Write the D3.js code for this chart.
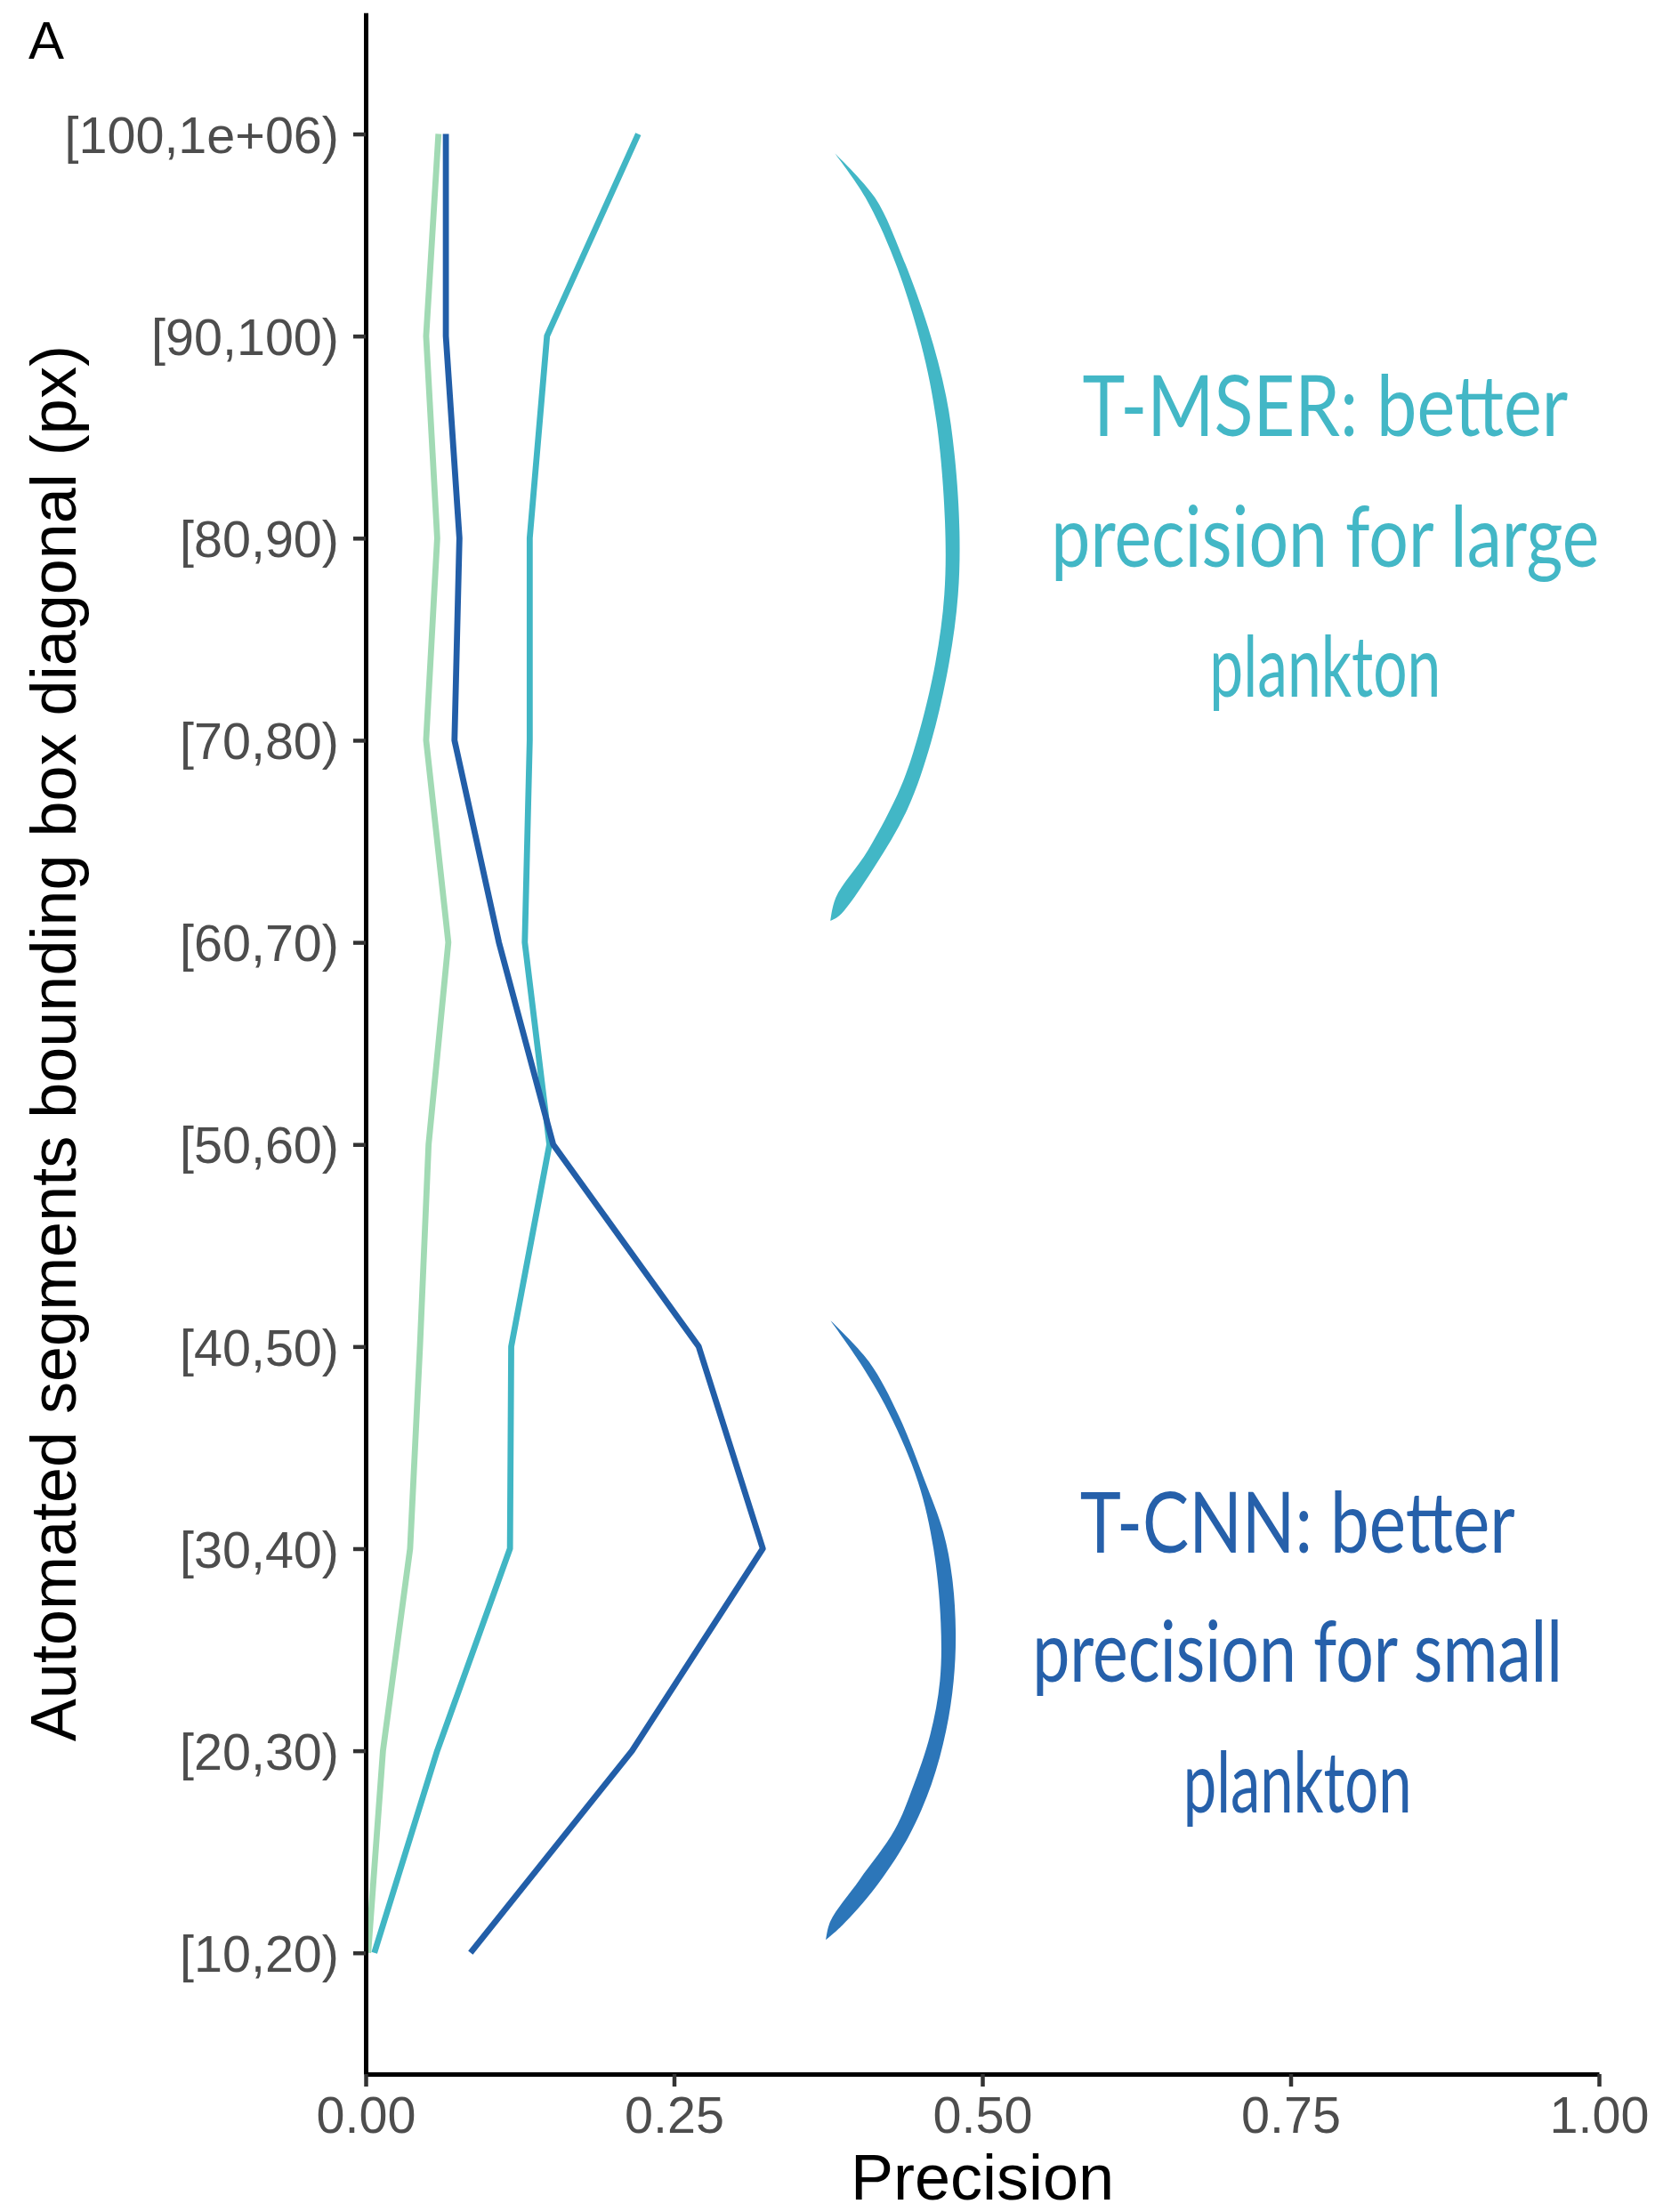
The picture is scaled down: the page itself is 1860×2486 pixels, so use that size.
<!DOCTYPE html>
<html>
<head>
<meta charset="utf-8">
<script src="https://cdn.jsdelivr.net/npm/d3@7"></script>
<style>
  html, body { margin: 0; padding: 0; background: #ffffff; }
  svg { display: block; }
</style>
</head>
<body>
<svg id="chart" width="1860" height="2486"></svg>
<script>
// Size classes of the automated segments (bottom to top of the axis)
const categories = ["[10,20)", "[20,30)", "[30,40)", "[40,50)", "[50,60)",
                    "[60,70)", "[70,80)", "[80,90)", "[90,100)", "[100,1e+06)"];

// Precision per size class
const precisionOther = [0.002, 0.014, 0.036, 0.044, 0.051, 0.067, 0.049, 0.058, 0.049, 0.059];
const precisionTMSER = [0.007, 0.058, 0.117, 0.118, 0.149, 0.129, 0.133, 0.133, 0.147, 0.221];
const precisionTCNN  = [0.085, 0.216, 0.322, 0.270, 0.152, 0.108, 0.072, 0.076, 0.065, 0.065];

const xTicks = [0, 0.25, 0.5, 0.75, 1];

// Callout texts
const noteTMSER = ["T-MSER: better", "precision for large", "plankton"];
const noteTCNN  = ["T-CNN: better", "precision for small", "plankton"];

// Brace strokes, [precision, class index] along the outer and inner edge
const braceTMSEROuter = [[0.3805, 8.904], [0.4129, 8.685], [0.4346, 8.401], [0.4562, 8.039],
  [0.4706, 7.703], [0.4778, 7.393], [0.4815, 7.031], [0.4803, 6.721], [0.4731, 6.385],
  [0.4587, 5.997], [0.4394, 5.661], [0.4129, 5.377], [0.3841, 5.132], [0.3768, 5.106]];
const braceTMSERInner = [[0.4052, 8.686], [0.4287, 8.375], [0.4503, 7.961], [0.4629, 7.574],
  [0.4697, 7.083], [0.4692, 6.722], [0.4620, 6.385], [0.4480, 6.023], [0.4336, 5.765],
  [0.4072, 5.455], [0.3812, 5.222]];
const braceTCNNOuter = [[0.3768, 3.129], [0.4082, 2.924], [0.4322, 2.658], [0.4538, 2.329],
  [0.4683, 2.083], [0.4755, 1.858], [0.4784, 1.592], [0.4767, 1.345], [0.4706, 1.099],
  [0.4587, 0.833], [0.4394, 0.566], [0.4129, 0.320], [0.3865, 0.136], [0.3732, 0.064]];
const braceTCNNInner = [[0.4003, 2.924], [0.4238, 2.678], [0.4479, 2.329], [0.4604, 2.001],
  [0.4663, 1.632], [0.4656, 1.345], [0.4577, 1.079], [0.4432, 0.812], [0.4288, 0.607],
  [0.4004, 0.361], [0.3768, 0.156]];

// ---- layout ----
const svg = d3.select("#chart");
const plotLeft = 411, plotRight = 1797, plotTop = 14.3, plotBottom = 2331;

const x = d3.scaleLinear().domain([0, 1]).range([plotLeft, plotRight]);
const y = d3.scalePoint().domain(categories).range([plotBottom, plotTop]).padding(0.6);
const yIdx = d3.scaleLinear().domain([0, categories.length - 1])
  .range([y(categories[0]), y(categories[categories.length - 1])]);

const series = [
  { values: precisionOther, color: "#a1dab4" },
  { values: precisionTMSER, color: "#41b6c4" },
  { values: precisionTCNN,  color: "#225ea8" }
];

// ---- data lines ----
const line = d3.line().x(d => x(d.v)).y(d => y(d.c));
svg.append("g").selectAll("path").data(series).join("path")
  .attr("d", s => line(categories.map((c, i) => ({ c, v: s.values[i] }))))
  .attr("fill", "none")
  .attr("stroke", s => s.color)
  .attr("stroke-width", 6.8)
  .attr("stroke-linejoin", "round")
  .attr("stroke-linecap", "butt");

// ---- axes ----
const font = "'Liberation Sans', Arial, Helvetica, sans-serif";

const yAxis = svg.append("g").attr("transform", `translate(${plotLeft},0)`)
  .call(d3.axisLeft(y).tickSize(14).tickSizeOuter(0).tickPadding(16));
const xAxis = svg.append("g").attr("transform", `translate(0,${plotBottom})`)
  .call(d3.axisBottom(x).tickValues(xTicks).tickFormat(d3.format(".2f"))
    .tickSize(14).tickSizeOuter(0).tickPadding(11));

[yAxis, xAxis].forEach(g => {
  g.select(".domain").attr("stroke", "#000").attr("stroke-width", 5);
  g.selectAll(".tick line").attr("stroke", "#333333").attr("stroke-width", 4.5);
  g.selectAll(".tick text").attr("fill", "#4d4d4d")
    .style("font-family", font).style("font-size", "57.5px");
});
yAxis.selectAll(".tick text").attr("dy", "0.36em");

// axis titles
svg.append("text")
  .attr("x", (plotLeft + plotRight) / 2).attr("y", 2472)
  .attr("text-anchor", "middle")
  .style("font-family", font).style("font-size", "72px").attr("fill", "#000")
  .text("Precision");

svg.append("text")
  .attr("transform", `translate(85,${(plotTop + plotBottom) / 2}) rotate(-90)`)
  .attr("text-anchor", "middle")
  .style("font-family", font).style("font-size", "72px").attr("fill", "#000")
  .text("Automated segments bounding box diagonal (px)");

// panel tag
svg.append("text")
  .attr("x", 32).attr("y", 66)
  .style("font-family", font).style("font-size", "60px").attr("fill", "#000")
  .text("A");

// ---- braces ----
const edge = d3.line().x(p => x(p[0])).y(p => yIdx(p[1])).curve(d3.curveCatmullRom.alpha(0.5));
function bracePath(outer, inner) {
  const back = [outer[outer.length - 1], ...inner.slice().reverse(), outer[0]];
  return edge(outer) + edge(back).replace(/^M/, "L") + "Z";
}
svg.append("path").attr("d", bracePath(braceTMSEROuter, braceTMSERInner)).attr("fill", "#42b7c6");
svg.append("path").attr("d", bracePath(braceTCNNOuter, braceTCNNInner)).attr("fill", "#2c76b9");

// ---- callout texts (narrow, tall lettering: each line squeezed to its width) ----
const noteFont = "Lato, 'Open Sans', sans-serif";
function note(lines, cx, cy, widths, color) {
  const g = svg.append("g");
  lines.forEach((t, i) => {
    const txt = g.append("text")
      .attr("text-anchor", "middle")
      .style("font-family", noteFont).style("font-size", "95px").style("font-weight", 400)
      .attr("fill", color)
      .text(t);
    const natural = txt.node().getComputedTextLength();
    txt.attr("transform",
      `translate(${x(cx)},${yIdx(cy[i])}) scale(${widths[i] / natural},1)`);
  });
}
note(noteTMSER, 0.778, [7.506, 6.858, 6.215], [546, 616, 260], "#43b7c6");
note(noteTCNN, 0.7555, [1.979, 1.341, 0.695], [489, 596, 257], "#2660aa");
</script>
</body>
</html>
